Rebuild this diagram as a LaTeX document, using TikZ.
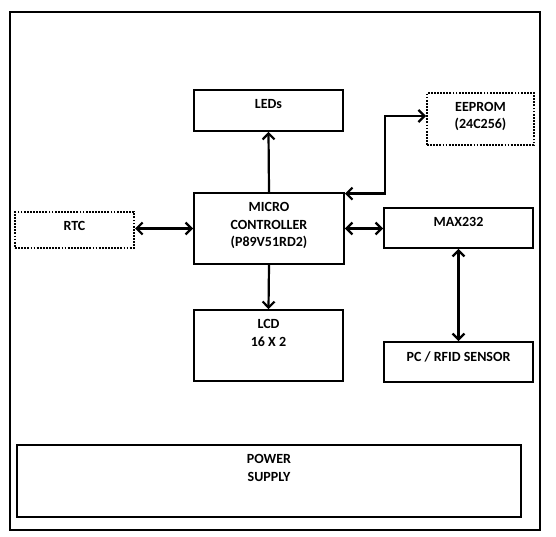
\documentclass[tikz,border=0pt]{standalone}
\usepackage{fontspec}
\setmainfont{Carlito}
\usetikzlibrary{arrows.meta, positioning, calc}

\tikzset{
  blk/.style={draw, line width=1.8pt, inner sep=0pt},
  dotblk/.style={blk, line width=2pt, dash pattern=on 1.8pt off 1.3pt},
  txt/.style={anchor=north, align=center, inner sep=0pt, yshift=-10pt,
    font=\bfseries\fontsize{14}{17.6}\selectfont},
  conn/.style={line width=2.2pt, -{Straight Barb[length=6pt,width=12pt]}},
  bconn/.style={conn, {Straight Barb[length=6pt,width=12pt]}-{Straight Barb[length=6pt,width=12pt]}}
}

\begin{document}
\begin{tikzpicture}[x=1pt, y=-1pt]
\useasboundingbox (0,0) rectangle (556,537);
\node (frame) [blk, line width=2pt, minimum width=530pt, minimum height=518pt] at (275,271) {};

% blocks
\node (leds) [blk, minimum width=149pt, minimum height=41pt] at (268.5,110.5) {};
\node (mcu) [blk, minimum width=150pt, minimum height=71pt] at (269,228.5) {};
\node (rtc) [dotblk, minimum width=119pt, minimum height=36pt] at (74.5,230) {};
\node (max) [blk, minimum width=149pt, minimum height=40pt] at (458.5,228) {};
\node (eeprom) [dotblk, minimum width=107pt, minimum height=52pt] at (480.5,119) {};
\node (lcd) [blk, minimum width=149pt, minimum height=71pt] at (268.5,345.5) {};
\node (pc) [blk, minimum width=149pt, minimum height=40pt] at (458.5,362) {};
\node (power) [blk, minimum width=504pt, minimum height=72pt] at (269,481) {};

% texts
\node (ledsT) [txt] at (leds.north) {LEDs};
\node (mcuT) [txt] at (mcu.north) {MICRO\\CONTROLLER\\(P89V51RD2)};
\node (rtcT) [txt] at (rtc.north) {RTC};
\node (maxT) [txt] at (max.north) {MAX232};
\node (eepromT) [txt] at (eeprom.north) {EEPROM\\(24C256)};
\node (lcdT) [txt] at (lcd.north) {LCD\\16 X 2};
\node (pcT) [txt] at (pc.north) {PC / RFID SENSOR};
\node (powerT) [txt] at (power.north) {POWER\\SUPPLY};

% links
\coordinate (bend) at (385,116);
\draw[conn] (mcu.north) -- (leds.south);
\draw[conn] (mcu.south) -- (lcd.north);
\draw[bconn] (rtc.east |- mcu.center) -- (mcu.west);
\draw[bconn] (mcu.east) -- (max.west |- mcu.center);
\draw[bconn] (max.south) -- (pc.north);
\draw[bconn] ([yshift=-1.5pt]mcu.north east) -| (bend) -- (bend -| eeprom.west);
\end{tikzpicture}
\end{document}
